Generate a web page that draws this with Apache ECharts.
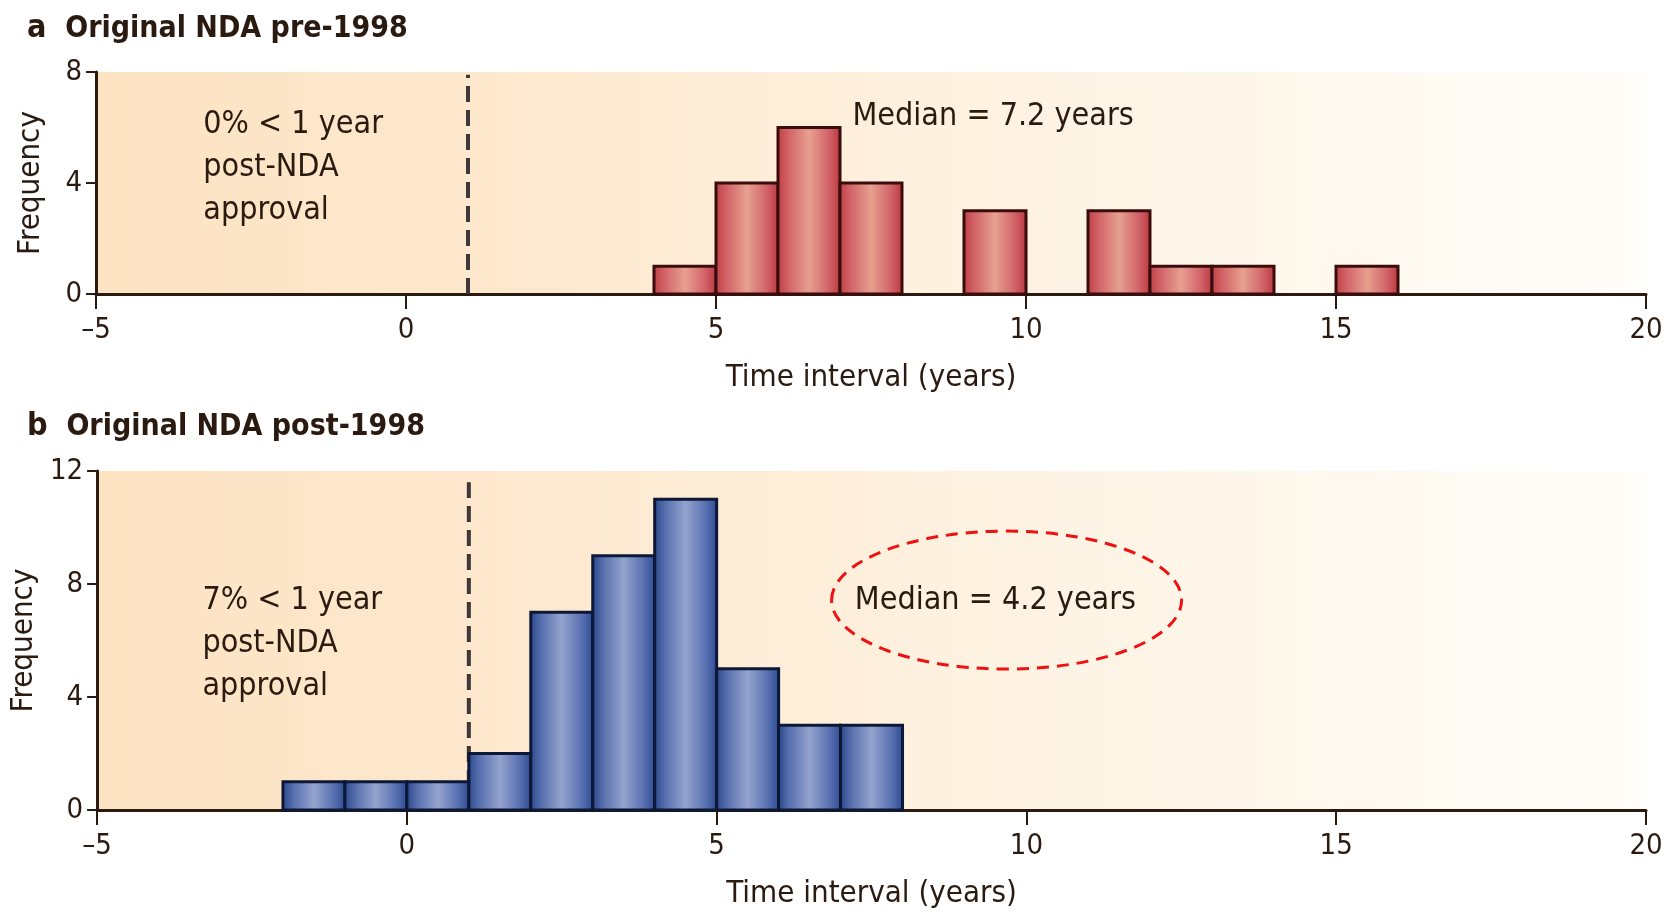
<!DOCTYPE html>
<html>
<head>
<meta charset="utf-8">
<script src="https://cdn.jsdelivr.net/npm/echarts@6/dist/echarts.min.js"></script>
<style>
  html, body { margin: 0; padding: 0; background: #fff; }
  #main { width: 1675px; height: 913px; }
</style>
</head>
<body>
<div id="main"></div>
<script>
// histogram bins (start of each 1-year bin) and counts
const preBins = [4, 5, 6, 7, 9, 11, 12, 13, 15];
const preCounts = [1, 4, 6, 4, 3, 3, 1, 1, 1];
const postBins = [-2, -1, 0, 1, 2, 3, 4, 5, 6, 7];
const postCounts = [1, 1, 1, 2, 7, 9, 11, 5, 3, 3];
const xTicks = [-5, 0, 5, 10, 15, 20];
const cutoff = 1; // 1 year post-NDA approval
const preMedian = 7.2;
const postMedian = 4.2;

const FONT = "'Liberation Sans Narrow', 'DejaVu Sans Condensed', 'Open Sans', sans-serif";
const INK = '#2a1a10';

let chartDom = document.getElementById('main');
let myChart = echarts.init(chartDom);

function barSeries(bins, counts, idx, stops, border) {
  return {
    type: 'custom',
    xAxisIndex: idx,
    yAxisIndex: idx,
    data: bins.map((b, i) => [b, b + 1, counts[i]]),
    renderItem: function (params, api) {
      let p0 = api.coord([api.value(0), api.value(2)]);
      let p1 = api.coord([api.value(1), 0]);
      return {
        type: 'rect',
        shape: { x: p0[0], y: p0[1], width: p1[0] - p0[0], height: p1[1] - p0[1] },
        style: {
          fill: new echarts.graphic.LinearGradient(0, 0, 1, 0, stops),
          stroke: border,
          lineWidth: 3
        }
      };
    },
    z: 3
  };
}

function cutoffLine(idx, top) {
  return {
    type: 'line',
    xAxisIndex: idx,
    yAxisIndex: idx,
    data: [[cutoff, 0], [cutoff, top]],
    symbol: 'none',
    silent: true,
    lineStyle: { color: '#3e3838', width: 4, type: 'dashed', dashOffset: 0 },
    z: 2
  };
}

const redStops = [
  { offset: 0, color: '#bd3e42' },
  { offset: 0.2, color: '#d3666a' },
  { offset: 0.5, color: '#e6a08f' },
  { offset: 0.8, color: '#d2646a' },
  { offset: 1, color: '#b8363c' }
];
const blueStops = [
  { offset: 0, color: '#28468a' },
  { offset: 0.2, color: '#5a72b0' },
  { offset: 0.5, color: '#95a3cd' },
  { offset: 0.8, color: '#5a72b2' },
  { offset: 1, color: '#2a4890' }
];

const bg = {
  type: 'linear', x: 0, y: 0, x2: 1, y2: 0,
  colorStops: [
    { offset: 0, color: '#fce3c2' },
    { offset: 0.3, color: '#fde9d0' },
    { offset: 0.6, color: '#fef3e3' },
    { offset: 1, color: '#fffdf9' }
  ]
};

function xAxis(idx) {
  return {
    type: 'value',
    gridIndex: idx,
    min: -5,
    max: 20,
    interval: 5,
    name: 'Time interval (years)',
    nameLocation: 'middle',
    nameGap: 68,
    nameTextStyle: { fontFamily: FONT, fontSize: 31, color: INK },
    axisLine: { show: true, onZero: false, lineStyle: { color: INK, width: 3 } },
    axisTick: { show: true, length: 15, lineStyle: { color: INK, width: 2 } },
    axisLabel: {
      fontFamily: FONT, fontSize: 29, color: INK, margin: 22,
      formatter: v => String(v).replace('-', '\u2013')
    },
    splitLine: { show: false }
  };
}

function yAxis(idx, max) {
  return {
    type: 'value',
    gridIndex: idx,
    min: 0,
    max: max,
    interval: 4,
    name: 'Frequency',
    nameLocation: 'middle',
    nameGap: 50,
    nameTextStyle: { fontFamily: FONT, fontSize: 31, color: INK },
    axisLine: { show: true, onZero: false, lineStyle: { color: INK, width: 3 } },
    axisTick: { show: true, length: 10, lineStyle: { color: INK, width: 2 } },
    axisLabel: { fontFamily: FONT, fontSize: 29, color: INK, margin: 14 },
    splitLine: { show: false }
  };
}

let option = {
  animation: false,
  backgroundColor: '#fff',
  title: [
    {
      text: '{b|a}  Original NDA pre-1998',
      left: 22, top: 8,
      textStyle: { fontFamily: FONT, fontSize: 30, fontWeight: 'bold', color: INK, rich: { b: { fontFamily: FONT, fontSize: 32, fontWeight: 'bold', color: INK } } }
    },
    {
      text: '{b|b}  Original NDA post-1998',
      left: 22, top: 406,
      textStyle: { fontFamily: FONT, fontSize: 30, fontWeight: 'bold', color: INK, rich: { b: { fontFamily: FONT, fontSize: 32, fontWeight: 'bold', color: INK } } }
    }
  ],
  grid: [
    { left: 96, right: 29, top: 72, height: 222, show: true, borderWidth: 0, backgroundColor: bg },
    { left: 96, right: 29, top: 471, height: 339, show: true, borderWidth: 0, backgroundColor: bg }
  ],
  xAxis: [xAxis(0), xAxis(1)],
  yAxis: [yAxis(0, 8), yAxis(1, 12)],
  series: [
    cutoffLine(0, 7.9),
    barSeries(preBins, preCounts, 0, redStops, '#3a0c0c'),
    cutoffLine(1, 11.6),
    barSeries(postBins, postCounts, 1, blueStops, '#0c1836')
  ]
};

myChart.setOption(option);

// annotations placed through the axes' own scales
const noteStyle = { fontFamily: FONT, fontSize: 32, fill: INK, lineHeight: 43 };
let a1 = myChart.convertToPixel({ gridIndex: 0 }, [-3.27, 6.86]);
let m1 = myChart.convertToPixel({ gridIndex: 0 }, [9.47, 6.38]);
let a2 = myChart.convertToPixel({ gridIndex: 1 }, [-3.3, 8.16]);
let m2 = myChart.convertToPixel({ gridIndex: 1 }, [9.5, 7.4]);
let e2 = myChart.convertToPixel({ gridIndex: 1 }, [9.68, 7.43]);

myChart.setOption({
  graphic: [
    {
      type: 'text', x: a1[0], y: a1[1], z: 10,
      style: Object.assign({ text: '0% < 1 year\npost-NDA\napproval', align: 'left', verticalAlign: 'top' }, noteStyle)
    },
    {
      type: 'text', x: m1[0], y: m1[1], z: 10,
      style: Object.assign({ text: 'Median = ' + preMedian + ' years', align: 'center', verticalAlign: 'middle' }, noteStyle)
    },
    {
      type: 'text', x: a2[0], y: a2[1], z: 10,
      style: Object.assign({ text: '7% < 1 year\npost-NDA\napproval', align: 'left', verticalAlign: 'top' }, noteStyle)
    },
    {
      type: 'text', x: m2[0], y: m2[1], z: 10,
      style: Object.assign({ text: 'Median = ' + postMedian + ' years', align: 'center', verticalAlign: 'middle' }, noteStyle)
    },
    {
      type: 'ellipse', z: 10,
      shape: { cx: e2[0], cy: e2[1], rx: 175, ry: 69 },
      style: { fill: 'none', stroke: '#ee1111', lineWidth: 3, lineDash: [12, 8] }
    }
  ]
});
</script>
</body>
</html>
